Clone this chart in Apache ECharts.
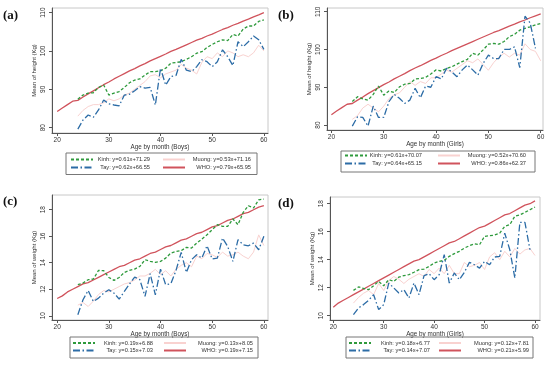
<!DOCTYPE html>
<html><head><meta charset="utf-8">
<script src="https://cdn.jsdelivr.net/npm/echarts@6/dist/echarts.min.js"></script>
<style>html,body{margin:0;padding:0;background:#fff}#c{width:550px;height:366px}</style>
</head><body><div id="c"></div>
<script>
// ---- ages ----
const whoAges = [20,21,22,23,24,25,26,27,28,29,30,31,32,33,34,35,36,37,38,39,40,41,42,43,44,45,46,47,48,49,50,51,52,53,54,55,56,57,58,59,60];
const groupAges = [24,25,26,27,28,29,30,31,32,33,34,35,36,37,38,39,40,41,42,43,44,45,46,47,48,49,50,51,52,53,54,55,56,57,58,59,60];
const groupAges59 = [24,25,26,27,28,29,30,31,32,33,34,35,36,37,38,39,40,41,42,43,44,45,46,47,48,49,50,51,52,53,54,55,56,57,58,59];

// ---- tick labels ----
const ageTicks = [20,30,40,50,60];
const heightTicks = [80,90,100,110];
const weightTicks = [10,12,14,16,18];

// ---- (a) height, boys ----
const whoHeightBoys = [84.2,85.1,86.0,86.9,87.1,88.0,88.8,89.6,90.4,91.2,91.9,92.7,93.4,94.1,94.8,95.4,96.1,96.7,97.4,98.0,98.6,99.2,99.9,100.4,101.0,101.6,102.2,102.8,103.3,103.9,104.4,105.0,105.6,106.1,106.7,107.2,107.8,108.3,108.9,109.4,110.0];
const kinhHeightBoys = [87.4,88.5,89.0,89.1,90.5,91.1,88.5,89.0,89.4,90.5,91.7,92.4,92.7,93.7,94.6,94.6,94.8,95.5,96.8,97.0,97.2,97.8,98.5,99.4,99.8,100.9,101.7,102.4,102.9,102.7,104.3,103.9,105.7,106.5,106.5,107.7,108.1];
const muongHeightBoys = [83.0,84.5,85.5,86.0,86.0,86.5,87.5,87.0,87.5,88.5,89.0,90.0,91.0,92.0,93.5,93.8,93.0,94.0,94.5,95.0,96.5,95.5,95.0,94.0,97.0,98.5,98.0,99.5,98.5,100.0,99.5,98.5,99.0,98.5,99.5,101.5,100.0];
const tayHeightBoys = [79.6,82.0,83.3,82.7,84.6,87.2,86.2,85.9,85.7,88.5,88.7,89.6,90.7,90.3,90.5,85.9,95.5,91.1,93.3,93.6,97.8,95.0,94.6,95.9,97.7,97.2,95.9,97.2,100.3,98.5,96.2,102.4,101.1,102.4,103.9,102.9,100.4];

// ---- (b) height, girls ----
const whoHeightGirls = [82.7,83.7,84.6,85.5,85.7,86.6,87.4,88.3,89.1,89.9,90.7,91.4,92.2,92.9,93.6,94.4,95.1,95.7,96.4,97.1,97.7,98.4,99.0,99.7,100.3,100.9,101.5,102.1,102.7,103.3,103.9,104.5,105.0,105.6,106.2,106.7,107.3,107.8,108.4,108.9,109.4];
const kinhHeightGirls = [86.2,87.5,86.9,86.6,88.1,90.3,87.9,89.0,88.6,90.1,90.8,91.0,92.2,92.3,92.6,93.5,94.6,94.3,95.0,95.4,96.1,96.8,97.4,99.0,98.5,99.9,101.4,101.6,101.4,102.1,103.4,104.0,105.1,105.6,106.0,106.5,106.9];
const muongHeightGirls = [81.5,82.5,84.5,85.5,84.5,83.5,85.0,87.0,88.0,88.5,90.0,91.5,90.5,91.5,91.0,92.5,92.5,93.5,94.5,94.0,95.0,96.0,97.0,96.5,97.5,96.0,94.5,96.5,98.0,99.0,98.0,99.0,98.5,101.5,100.0,99.5,97.0];
const tayHeightGirls = [79.7,82.2,82.0,79.7,85.0,82.0,82.0,86.2,88.1,87.1,85.7,86.6,89.7,87.2,90.3,90.0,92.8,92.2,95.0,94.1,92.8,94.6,95.9,94.6,93.2,96.3,98.5,97.6,97.6,100.0,100.0,100.7,95.2,108.8,107.0,100.3];

// ---- (c) weight, boys ----
const whoWeightBoys = [11.3,11.5,11.8,12.0,12.2,12.4,12.5,12.7,12.9,13.1,13.3,13.5,13.7,13.8,14.0,14.2,14.3,14.5,14.7,14.8,15.0,15.2,15.3,15.5,15.7,15.8,16.0,16.2,16.3,16.5,16.7,16.8,17.0,17.2,17.3,17.5,17.7,17.8,18.0,18.2,18.3];
const kinhWeightBoys = [12.34,12.47,12.72,12.77,13.42,13.40,12.89,12.67,12.89,13.27,13.42,13.52,13.72,14.23,14.10,14.03,14.10,14.35,14.73,14.85,14.91,15.16,15.11,15.48,15.79,16.11,16.49,16.87,16.74,16.74,17.30,16.87,17.80,18.30,18.13,18.75,18.80];
const muongWeightBoys = [10.8,11.0,10.7,11.1,11.6,11.9,11.8,12.0,12.2,12.4,12.5,12.7,13.0,13.0,13.2,13.5,13.1,13.4,13.0,13.5,13.8,14.0,13.7,14.5,14.3,14.7,14.6,14.4,14.8,14.5,14.6,14.8,14.5,14.3,14.8,16.1,15.3];
const tayWeightBoys = [10.08,11.21,11.91,11.08,11.33,11.71,11.96,11.71,11.26,11.84,12.39,12.92,12.72,11.46,13.17,11.58,13.52,12.34,12.42,13.42,14.78,13.27,14.23,14.60,14.35,15.28,14.28,14.35,15.86,15.23,14.10,15.74,15.36,15.28,15.48,14.98,15.99];

// ---- (d) weight, girls ----
const whoWeightGirls = [10.6,10.9,11.1,11.3,11.5,11.7,11.9,12.1,12.3,12.5,12.7,12.9,13.1,13.3,13.5,13.7,13.9,14.0,14.2,14.4,14.6,14.8,15.0,15.2,15.3,15.5,15.7,15.9,16.1,16.3,16.4,16.6,16.8,17.0,17.2,17.3,17.5,17.7,17.9,18.0,18.2];
const kinhWeightGirls = [11.81,12.05,11.95,11.86,12.14,12.45,12.14,12.57,12.45,12.76,12.86,12.93,13.10,13.29,13.33,13.52,13.76,13.88,13.95,14.24,14.43,14.60,14.83,15.00,15.14,15.07,15.67,15.71,15.76,15.90,16.38,16.50,17.10,17.21,17.38,17.57,17.76];
const muongWeightGirls = [10.9,11.3,11.6,11.8,11.5,12.3,11.8,12.5,12.8,12.6,12.3,12.6,12.8,13.0,12.8,13.3,13.0,13.4,13.0,13.6,13.0,13.0,13.8,13.5,13.6,13.8,13.3,14.2,14.5,14.0,14.6,14.2,14.8,14.4,14.7,14.8,14.3];
const tayWeightGirls = [10.07,10.55,10.79,11.10,11.50,10.43,10.79,12.33,11.98,11.62,11.86,11.26,12.33,11.50,12.86,13.00,12.57,12.93,14.36,12.33,13.05,12.57,13.10,13.81,13.64,13.40,13.88,13.64,14.19,14.24,15.90,14.71,12.69,16.67,16.67,14.71];

// ---- legend labels (regression equations) ----
const kinhLabels = ['Kinh: y=0.61x+71.29','Kinh: y=0.61x+70.07','Kinh: y=0.19x+6.88','Kinh: y=0.18x+6.77'];
const muongLabels = ['Muong: y=0.53x+71.16','Muong: y=0.52x+70.60','Muong: y=0.13x+8.05','Muong: y=0.12x+7.81'];
const tayLabels = ['Tay: y=0.62x+66.55','Tay: y=0.64x+65.15','Tay: y=0.15x+7.03','Tay: y=0.14x+7.07'];
const whoLabels = ['WHO: y=0.79x+65.95','WHO: y=0.86x+62.37','WHO: y=0.19x+7.15','WHO: y=0.21x+5.99'];
const panelLetters = ['(a)','(b)','(c)','(d)'];
const yNames = ['Mean of height (Kg)','Mean of height (Kg)','Mean of weight (Kg)','Mean of weight (Kg)'];
const xNames = ['Age by month (Boys)','Age by month (Girls)','Age by month (Boys)','Age by month (Girls)'];

const zip = (xs, ys) => ys.map((v, i) => [xs[i], v]);

const panelData = [
  {who: whoHeightBoys, kinh: kinhHeightBoys, muong: muongHeightBoys, tay: tayHeightBoys, tayAges: groupAges, ticks: heightTicks},
  {who: whoHeightGirls, kinh: kinhHeightGirls, muong: muongHeightGirls, tay: tayHeightGirls, tayAges: groupAges59, ticks: heightTicks},
  {who: whoWeightBoys, kinh: kinhWeightBoys, muong: muongWeightBoys, tay: tayWeightBoys, tayAges: groupAges, ticks: weightTicks},
  {who: whoWeightGirls, kinh: kinhWeightGirls, muong: muongWeightGirls, tay: tayWeightGirls, tayAges: groupAges59, ticks: weightTicks}
];

// ---- layout (pixels) ----
const layout = [
  {grid:{left:52,top:8,width:216,height:125}, x:[19.0,60.8], y:[78.6,111.2], title:{left:3,top:9},
   leg:{box:[66,153,256,176.5], rows:[160,169], c1:70, c2:162, tw1:52, tw2:61}},
  {grid:{left:327,top:8,width:216,height:122}, x:[19.16,60.44], y:[78.68,110.98], title:{left:278,top:9},
   leg:{box:[341,151,534,174], rows:[156,165], c1:344, c2:437, tw1:50, tw2:61}},
  {grid:{left:52,top:195,width:216,height:125}, x:[19.0,60.8], y:[9.68,19.11], title:{left:3,top:195},
   leg:{box:[70,337,257,360], rows:[343.5,352], c1:72, c2:163, tw1:53, tw2:62}},
  {grid:{left:330,top:197,width:210,height:123}, x:[19.35,60.99], y:[9.69,18.48], title:{left:278,top:197},
   leg:{box:[346,337,532,360], rows:[343.5,352], c1:348, c2:438, tw1:54, tw2:63}}
];

const COLORS = {kinh:'#2e9a3c', muong:'#f9d2d0', tay:'#2c6ca6', who:'#d0535c'};
const FONT = 'Liberation Sans, Arial, sans-serif';
const tickColor = '#333';

const option = {
  animation: false,
  backgroundColor: '#fff',
  title: [], grid: [], xAxis: [], yAxis: [], legend: [], series: []
};

layout.forEach((L, i) => {
  const D = panelData[i];
  option.title.push({text: panelLetters[i], left: L.title.left, top: L.title.top, padding: 0,
    textStyle: {fontFamily: 'Liberation Serif, Times New Roman, serif', fontWeight: 'bold', fontSize: 13, color: '#111'}});
  option.grid.push(Object.assign({show: true, borderColor: '#c8c8c8', borderWidth: 1, backgroundColor: '#fff'}, L.grid));
  option.xAxis.push({
    type: 'value', gridIndex: i, min: L.x[0], max: L.x[1],
    name: xNames[i], nameLocation: 'middle', nameGap: 8,
    nameTextStyle: {fontSize: 6.3, color: '#333', fontFamily: FONT},
    axisLine: {show: true, onZero: false, lineStyle: {color: '#555', width: 1}},
    axisTick: {show: true, length: 3, customValues: ageTicks, lineStyle: {color: '#555'}},
    axisLabel: {show: true, customValues: ageTicks, fontSize: 6.5, color: tickColor, margin: 3.5, fontFamily: FONT},
    splitLine: {show: false}
  });
  option.yAxis.push({
    type: 'value', gridIndex: i, min: L.y[0], max: L.y[1],
    name: yNames[i], nameLocation: 'middle', nameGap: 15,
    nameTextStyle: {fontSize: 6, color: '#333', fontFamily: FONT},
    axisLine: {show: true, onZero: false, lineStyle: {color: '#555', width: 1}},
    axisTick: {show: true, length: 3, customValues: D.ticks, lineStyle: {color: '#555'}},
    axisLabel: {show: true, customValues: D.ticks, rotate: 90, fontSize: 6.5, color: tickColor, margin: 5, fontFamily: FONT},
    splitLine: {show: false}
  });
  const mk = (name, ages, vals, color, width, type, z) => ({
    type: 'line', name, xAxisIndex: i, yAxisIndex: i, data: zip(ages, vals),
    symbol: 'none', showSymbol: false, silent: true, z,
    lineStyle: {color, width, type}, itemStyle: {color}
  });
  option.series.push(mk(muongLabels[i], groupAges, D.muong, COLORS.muong, 1, 'solid', 2));
  option.series.push(mk(whoLabels[i], whoAges, D.who, COLORS.who, 1.3, 'solid', 3));
  option.series.push(mk(kinhLabels[i], groupAges, D.kinh, COLORS.kinh, 1.3, [3, 2], 4));
  option.series.push(mk(tayLabels[i], D.tayAges, D.tay, COLORS.tay, 1.3, [7, 2.5, 1.5, 2.5], 5));

  const g = L.leg, ih = 7;
  const gap = g.rows[1] - g.rows[0] - ih;
  const padTop = g.rows[0] - ih / 2 - g.box[1];
  const padBottom = g.box[3] - (g.rows[1] + ih / 2);
  const padLeft = g.c1 - g.box[0];
  const padRight = g.box[2] - (g.c1 + 27 + g.tw1);
  const legCommon = (tw) => ({
    orient: 'vertical', itemWidth: 22, itemHeight: ih, itemGap: gap, selectedMode: false,
    itemStyle: {opacity: 0},
    formatter: (n) => '{r|' + n + '}',
    textStyle: {rich: {r: {fontSize: 5.7, lineHeight: 7, width: tw, align: 'right', color: '#333', fontFamily: FONT}}}
  });
  option.legend.push(Object.assign(legCommon(g.tw1), {
    left: g.box[0], top: g.box[1], padding: [padTop, padRight, padBottom, padLeft],
    borderColor: '#777', borderWidth: 1, backgroundColor: 'transparent',
    data: [kinhLabels[i], tayLabels[i]]
  }));
  option.legend.push(Object.assign(legCommon(g.tw2), {
    left: g.c2, top: g.rows[0] - ih / 2, padding: 0, z: 5,
    data: [muongLabels[i], whoLabels[i]]
  }));
});

const chart = echarts.init(document.getElementById('c'), null, {renderer: 'canvas'});
chart.setOption(option);
</script></body></html>
